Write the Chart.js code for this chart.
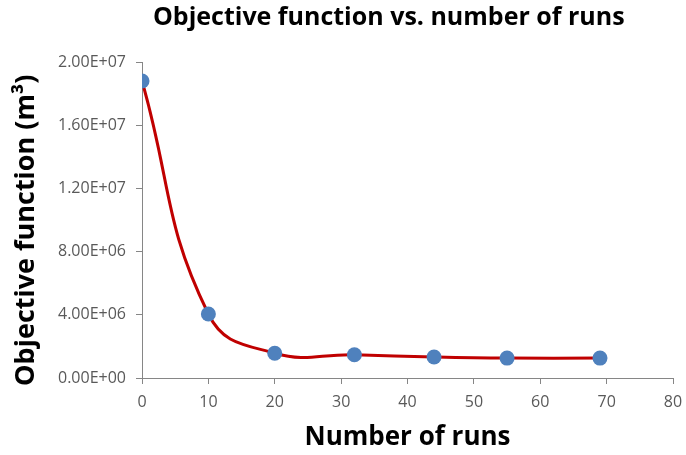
<!DOCTYPE html>
<html>
<head>
<meta charset="utf-8">
<script src="https://cdn.jsdelivr.net/npm/chart.js@4/dist/chart.umd.min.js"></script>
<style>
  html, body { margin: 0; padding: 0; background: #fff; }
  #wrap { width: 686px; height: 455px; }
</style>
</head>
<body>
<div id="wrap"><canvas id="objChart"></canvas></div>
<script>
// runs and objective function values (m3)
const runs = [0, 10, 20, 32, 44, 55, 69];
const objective = [1.88e7, 4.05e6, 1.57e6, 1.47e6, 1.33e6, 1.26e6, 1.26e6];

const xTicks = [0, 10, 20, 30, 40, 50, 60, 70, 80];
const yTicks = [0, 4e6, 8e6, 1.2e7, 1.6e7, 2e7];

// Excel style scientific label, e.g. 2.00E+07
function sciLabel(v) {
    if (v === 0) return '0.00E+00';
    const exp = Math.floor(Math.log10(Math.abs(v)));
    const mant = v / Math.pow(10, exp);
    const e = (exp < 0 ? '-' : '+') + String(Math.abs(exp)).padStart(2, '0');
    return mant.toFixed(2) + 'E' + e;
}

const axisGray = '#868686';
const fontFam = "'Open Sans', 'DejaVu Sans', sans-serif";

const ctx = document.getElementById('objChart').getContext('2d');
new Chart(ctx, {
    type: 'line',
    data: {
        datasets: [{
            data: runs.map((r, i) => ({ x: r, y: objective[i] })),
            borderColor: '#C00000',
            borderWidth: 3,
            tension: 0.45,
            pointRadius: 7.5,
            pointBackgroundColor: '#4F81BD',
            pointBorderColor: '#4F81BD',
            pointBorderWidth: 0
        }]
    },
    options: {
        responsive: true,
        maintainAspectRatio: false,
        animation: false,
        layout: { padding: { left: 10, right: 13, top: 0, bottom: 0 } },
        plugins: {
            legend: { display: false },
            tooltip: { enabled: false },
            title: {
                display: true,
                fullSize: false,
                // trailing spaces nudge the title a little left of the plot centre
                text: 'Objective function vs. number of runs\u2003\u2002',
                color: '#000',
                font: { family: fontFam, size: 25, weight: 'bold' },
                padding: { top: 3, bottom: 29 }
            }
        },
        scales: {
            x: {
                type: 'linear',
                min: 0,
                max: 80,
                afterBuildTicks: axis => { axis.ticks = xTicks.map(v => ({ value: v })); },
                afterFit: axis => { axis.height = 77; axis.paddingRight = 0; },
                ticks: { color: '#595959', font: { family: fontFam, size: 16 }, padding: 9 },
                grid: { drawOnChartArea: false, drawTicks: true, tickLength: 6, color: axisGray },
                border: { color: axisGray, width: 1 },
                title: {
                    display: true,
                    text: 'Number of runs',
                    color: '#000',
                    font: { family: fontFam, size: 26, weight: 'bold' },
                    padding: { top: 0, bottom: 2 }
                }
            },
            y: {
                min: 0,
                max: 2e7,
                afterBuildTicks: axis => { axis.ticks = yTicks.map(v => ({ value: v })); },
                afterFit: axis => { axis.width = 132; },
                ticks: {
                    color: '#595959',
                    font: { family: fontFam, size: 16 },
                    padding: 10,
                    callback: v => sciLabel(v)
                },
                grid: { drawOnChartArea: false, drawTicks: true, tickLength: 6, color: axisGray },
                border: { color: axisGray, width: 1 },
                title: {
                    display: true,
                    // en space at the end shifts the rotated text slightly downwards
                    text: 'Objective function (m\u00B3)\u2002 ',
                    color: '#000',
                    font: { family: fontFam, size: 27, weight: 'bold' },
                    padding: { top: 0, bottom: 4 }
                }
            }
        }
    }
});
</script>
</body>
</html>
